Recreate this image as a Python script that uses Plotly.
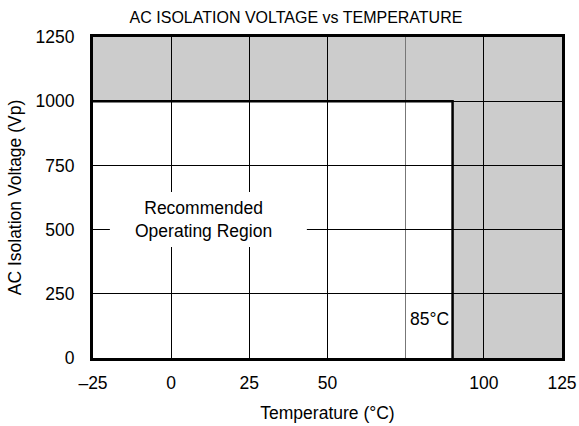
import plotly.graph_objects as go

# ---- data ----
temp_range = [-25, 125]
voltage_range = [0, 1250]
temp_tick_vals = [-25, 0, 25, 50, 100, 125]
temp_tick_text = ["\u201325", "0", "25", "50", "100", "125"]
temp_minor_grid = [75]
voltage_tick_vals = [0, 250, 500, 750, 1000, 1250]
voltage_tick_text = ["0", "250", "500", "750", "1000", "1250"]
boundary_temp = 90          # position of the vertical limit line as drawn
rated_voltage = 1000        # horizontal limit
boundary_label = "85\u00b0C"
region_label = "Recommended<br>Operating Region"
region_label_pos = (10.2, 539)
boundary_label_y = 150

# ---- styling / layout ----
FONT = "Liberation Sans, Arial, sans-serif"
FS = 17.5
W, H = 579, 426
label_box = dict(x0=-19.6, x1=43.4, y0=432, y1=646)   # white backing behind region label

x0, x1 = temp_range
y0, y1 = voltage_range

gray_path = (f"M {x0},{y1} L {x1},{y1} L {x1},{y0} L {boundary_temp},{y0} "
             f"L {boundary_temp},{rated_voltage} L {x0},{rated_voltage} Z")

fig = go.Figure()

fig.add_trace(go.Scatter(
    x=[x0, boundary_temp, boundary_temp],
    y=[rated_voltage, rated_voltage, y0],
    mode="lines",
    line=dict(color="black", width=2.5),
    hoverinfo="skip",
    showlegend=False,
))

fig.add_shape(type="path", path=gray_path, xref="x", yref="y",
              fillcolor="#cccccc", line=dict(width=0), layer="below")
fig.add_shape(type="rect", xref="x", yref="y", **label_box,
              fillcolor="white", line=dict(width=0), layer="between")

fig.add_annotation(x=region_label_pos[0], y=region_label_pos[1], text=region_label,
                   showarrow=False,
                   font=dict(family=FONT, size=FS, color="black"))
fig.add_annotation(x=boundary_temp, y=boundary_label_y, text=boundary_label,
                   showarrow=False, xanchor="right", xshift=-2,
                   font=dict(family=FONT, size=FS, color="black"))

fig.update_layout(
    width=W, height=H,
    margin=dict(l=93, r=17, t=37, b=68, autoexpand=False),
    paper_bgcolor="white", plot_bgcolor="white",
    font=dict(family=FONT, size=FS, color="black"),
    title=dict(text="AC ISOLATION VOLTAGE vs TEMPERATURE", x=296 / W, xref="container",
               xanchor="center", y=1 - 17.5 / H, yref="container", yanchor="middle",
               font=dict(family=FONT, size=16, color="black")),
    showlegend=False,
)

fig.update_xaxes(
    range=temp_range, tickmode="array", tickvals=temp_tick_vals, ticktext=temp_tick_text,
    showgrid=True, gridcolor="black", gridwidth=1,
    minor=dict(tickmode="array", tickvals=temp_minor_grid, showgrid=True,
               gridcolor="#777777", gridwidth=1, ticks=""),
    showline=True, linecolor="black", linewidth=3, mirror=True,
    ticks="", ticklabelstandoff=7, zeroline=False, fixedrange=True, automargin=False,
    title=dict(text="Temperature (\u00b0C)", standoff=15,
               font=dict(family=FONT, size=FS)),
    tickfont=dict(family=FONT, size=FS),
)
fig.update_yaxes(
    range=voltage_range, tickmode="array", tickvals=voltage_tick_vals, ticktext=voltage_tick_text,
    showgrid=True, gridcolor="black", gridwidth=1,
    showline=True, linecolor="black", linewidth=3, mirror=True,
    ticks="", ticklabelstandoff=12, zeroline=False, fixedrange=True, automargin=False,
    title=dict(text="AC Isolation Voltage (Vp)", standoff=10,
               font=dict(family=FONT, size=FS)),
    tickfont=dict(family=FONT, size=FS),
)

# remove the browser's default page margin so the figure fills the window exactly
post = ("document.body.style.margin='0';"
        "document.body.style.overflow='hidden';"
        "document.documentElement.style.overflow='hidden';")

fig.write_html("out.html", post_script=post, config={"displayModeBar": False})
